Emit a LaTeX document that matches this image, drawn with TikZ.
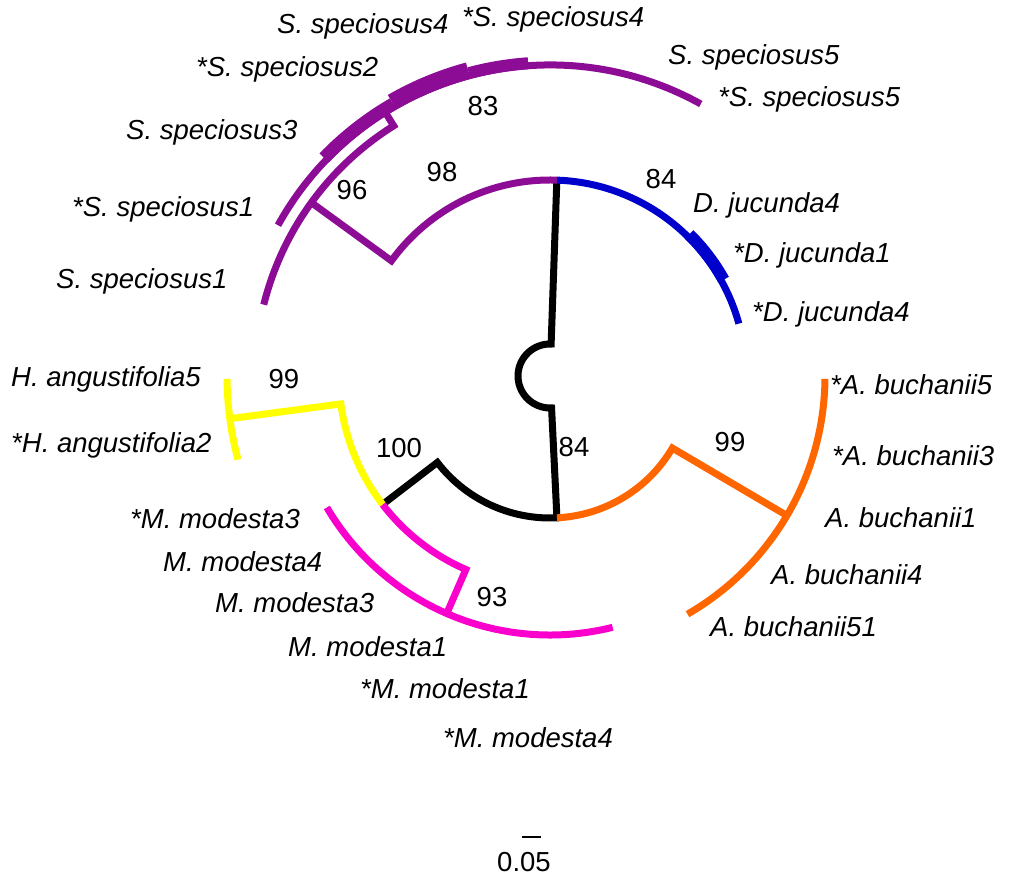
\documentclass[tikz,border=0pt]{standalone}
\usepackage{fontspec}
\setmainfont{Liberation Sans}
\definecolor{cpur}{RGB}{140,12,150}
\definecolor{cblu}{RGB}{0,0,205}
\definecolor{corg}{RGB}{255,102,0}
\definecolor{cmag}{RGB}{250,0,205}
\definecolor{cyel}{RGB}{255,255,0}
\tikzset{
  br/.style={line width=7pt},
  lab/.style={font=\fontsize{27.5}{33}\selectfont\itshape, anchor=west, inner sep=0pt, text height=19.3pt, text depth=5.7pt},
  num/.style={font=\fontsize{27.5}{33}\selectfont, anchor=center, inner sep=0pt, text height=19.5pt, text depth=0pt},
}
\begin{document}
\begin{tikzpicture}[x=1pt,y=1pt]
\useasboundingbox (0,0) rectangle (1014,887);
\begin{scope}[shift={(550,511)}]
  % named tree nodes
  \coordinate (top) at (88:196);
  \coordinate (bot) at (272.8:142);
  \coordinate (n100) at (217.5:142);
  \coordinate (nYM) at (217.5:211);
  % black root
  \draw[br,black] (top) -- (88:32) arc[start angle=88, end angle=272.8, radius=32] -- (bot)
     arc[start angle=272.8, end angle=217.5, radius=142] -- (nYM);
  % orange clade
  \draw[br,corg] (bot) arc[start angle=272.8, end angle=329.5, radius=142] -- (329.5:275);
  \draw[br,corg] (359.4:275) arc[start angle=359.4, end angle=300, radius=275];
  % blue clade
  \draw[br,cblu] (top) arc[start angle=88, end angle=15.5, radius=196];
  \draw[cblu,line width=12pt] (45.5:198.5) arc[start angle=45.5, end angle=29, radius=198.5];
  % purple clade
  \draw[br,cpur] (top) arc[start angle=88, end angle=144, radius=196] -- (144:295);
  \draw[br,cpur] (166:295) arc[start angle=166, end angle=122, radius=295] -- (122:311);
  \draw[br,cpur] (151:311) arc[start angle=151, end angle=61, radius=311];
  \draw[cpur,line width=13pt] (136:314) arc[start angle=136, end angle=120, radius=314];
  \draw[cpur,line width=17pt] (120:316) arc[start angle=120, end angle=105, radius=316];
  \draw[cpur,line width=12pt] (105:313.5) arc[start angle=105, end angle=94, radius=313.5];
  % magenta clade
  \draw[br,cmag] (nYM) arc[start angle=217.5, end angle=246.5, radius=211] -- (246.5:259);
  \draw[br,cmag] (210.5:259) arc[start angle=210.5, end angle=284, radius=259];
  % yellow clade
  \draw[br,cyel] (nYM) arc[start angle=217.5, end angle=187.6, radius=211] -- (187.6:323);
  \draw[br,cyel] (180.5:323) arc[start angle=180.5, end angle=195, radius=323];
\end{scope}
% taxon labels
\node[lab] (t1) at (277,860) {S. speciosus4};
\node[lab] (t2) at (462,867) {*S. speciosus4};
\node[lab] (t3) at (196,817) {*S. speciosus2};
\node[lab] (t4) at (668,829) {S. speciosus5};
\node[lab] (t5) at (718,787) {*S. speciosus5};
\node[lab] (t6) at (126,754) {S. speciosus3};
\node[lab] (t7) at (72,677) {*S. speciosus1};
\node[lab] (t8) at (56,605) {S. speciosus1};
\node[lab] (t9) at (693,681) {D. jucunda4};
\node[lab] (t10) at (733,631) {*D. jucunda1};
\node[lab] (t11) at (752,572) {*D. jucunda4};
\node[lab] (t12) at (11,507) {H. angustifolia5};
\node[lab] (t13) at (11,441) {*H. angustifolia2};
\node[lab] (t14) at (130,365) {*M. modesta3};
\node[lab] (t15) at (163,322) {M. modesta4};
\node[lab] (t16) at (215,281) {M. modesta3};
\node[lab] (t17) at (288,237) {M. modesta1};
\node[lab] (t18) at (360,195) {*M. modesta1};
\node[lab] (t19) at (443,146) {*M. modesta4};
\node[lab] (t20) at (830,499) {*A. buchanii5};
\node[lab] (t21) at (832,428) {*A. buchanii3};
\node[lab] (t22) at (825,366) {A. buchanii1};
\node[lab] (t23) at (771,309) {A. buchanii4};
\node[lab] (t24) at (710,257) {A. buchanii51};
% support values
\node[num] (b83) at (483,781) {83};
\node[num] (b98) at (442,715) {98};
\node[num] (b96) at (352,697) {96};
\node[num] (b84a) at (661,708) {84};
\node[num] (b99a) at (284,508) {99};
\node[num] (b100) at (399,439) {100};
\node[num] (b84b) at (574,440) {84};
\node[num] (b99b) at (730,445) {99};
\node[num] (b93) at (492,290) {93};
% scale bar
\coordinate (sbL) at (522,50);
\coordinate (sbR) at (541,50);
\draw[line width=2.5pt] (sbL) -- (sbR);
\node[num] (sc) at (524,25) {0.05};
\end{tikzpicture}
\end{document}
